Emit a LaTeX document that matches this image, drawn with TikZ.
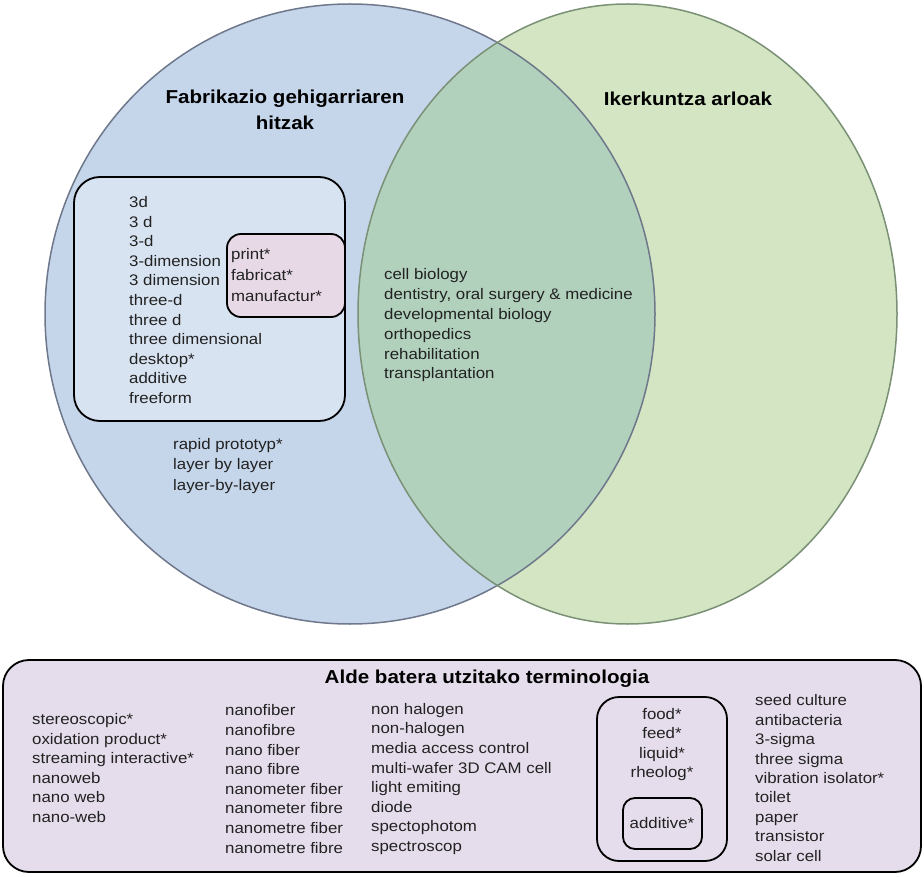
\documentclass[tikz,border=0pt]{standalone}
\usepackage{fontspec}
\setmainfont{Liberation Sans}[FakeStretch=1.1]
\definecolor{bluefill}{RGB}{197,213,234}
\definecolor{greenfill}{RGB}{211,229,194}
\definecolor{overlapfill}{RGB}{178,209,189}
\definecolor{blueedge}{RGB}{110,120,138}
\definecolor{greenedge}{RGB}{122,145,118}
\definecolor{lightbluebox}{RGB}{216,227,241}
\definecolor{pinkbox}{RGB}{231,217,230}
\definecolor{lavbox}{RGB}{229,221,235}
\definecolor{txt}{RGB}{34,34,34}
\tikzset{
  boxline/.style={draw=black, line width=1.8pt},
  listtext/.style={inner sep=0pt, align=left, anchor=west, text=txt, font=\fontsize{15.3}{19.6}\selectfont},
  ctrtext/.style={inner sep=0pt, align=center, anchor=center, text=txt, font=\fontsize{15.3}{19.4}\selectfont},
  titletext/.style={inner sep=0pt, align=center, anchor=center, text=black, font=\fontsize{18.7}{26}\selectfont\bfseries}
}
\begin{document}
\begin{tikzpicture}[x=1pt,y=-1pt]
\useasboundingbox (0,0) rectangle (924,877);
% circles
\fill[bluefill] (350,314) ellipse [x radius=305pt, y radius=310pt];
\fill[greenfill] (627.5,314) ellipse [x radius=269.5pt, y radius=310pt];
\begin{scope}
  \clip (350,314) ellipse [x radius=305pt, y radius=310pt];
  \fill[overlapfill] (627.5,314) ellipse [x radius=269.5pt, y radius=310pt];
\end{scope}
\draw[blueedge, line width=1.5pt] (350,314) ellipse [x radius=305pt, y radius=310pt];
\draw[greenedge, line width=1.5pt] (627.5,314) ellipse [x radius=269.5pt, y radius=310pt];
% titles
\node[titletext] (fabtitle) at (285,110) {Fabrikazio gehigarriaren\\hitzak};
\node[titletext] (iktitle) at (688,99) {Ikerkuntza arloak};
% left inner box
\draw[boxline, fill=lightbluebox, rounded corners=26pt] (74,177) rectangle (345,421);
\draw[boxline, fill=pinkbox, rounded corners=14pt] (227,234) rectangle (345,317);
\node[listtext] (amterms) at (129,300) {3d\\3 d\\3-d\\3-dimension\\3 dimension\\three-d\\three d\\three dimensional\\desktop*\\additive\\freeform};
\node[listtext, font=\fontsize{15.3}{20.8}\selectfont] (printterms) at (231,275) {print*\\fabricat*\\manufactur*};
\node[listtext, font=\fontsize{15.3}{20.5}\selectfont] (rapidterms) at (173,466) {rapid prototyp*\\layer by layer\\layer-by-layer};
\node[listtext, font=\fontsize{15.3}{19.8}\selectfont] (fieldterms) at (384,325.5) {cell biology\\dentistry, oral surgery \& medicine\\developmental biology\\orthopedics\\rehabilitation\\transplantation};
% bottom box
\draw[boxline, fill=lavbox, rounded corners=26pt] (3,660) rectangle (921,872);
\node[titletext] (extitle) at (487,679) {Alde batera utzitako terminologia};
\node[listtext] (excol1) at (32,768) {stereoscopic*\\oxidation product*\\streaming interactive*\\nanoweb\\nano web\\nano-web};
\node[listtext] (excol2) at (225,779) {nanofiber\\nanofibre\\nano fiber\\nano fibre\\nanometer fiber\\nanometer fibre\\nanometre fiber\\nanometre fibre};
\node[listtext] (excol3) at (371,779) {non halogen\\non-halogen\\media access control\\multi-wafer 3D CAM cell\\light emiting\\diode\\spectophotom\\spectroscop};
\draw[boxline, rounded corners=22pt] (597,697) rectangle (727,861);
\node[ctrtext] (foodterms) at (662,744.5) {food*\\feed*\\liquid*\\rheolog*};
\draw[boxline, rounded corners=12pt] (623,798) rectangle (702,849);
\node[ctrtext] (additiveterm) at (662,823.5) {additive*};
\node[listtext, font=\fontsize{15.3}{19.4}\selectfont] (excol5) at (755,778) {seed culture\\antibacteria\\3-sigma\\three sigma\\vibration isolator*\\toilet\\paper\\transistor\\solar cell};
\end{tikzpicture}
\end{document}
